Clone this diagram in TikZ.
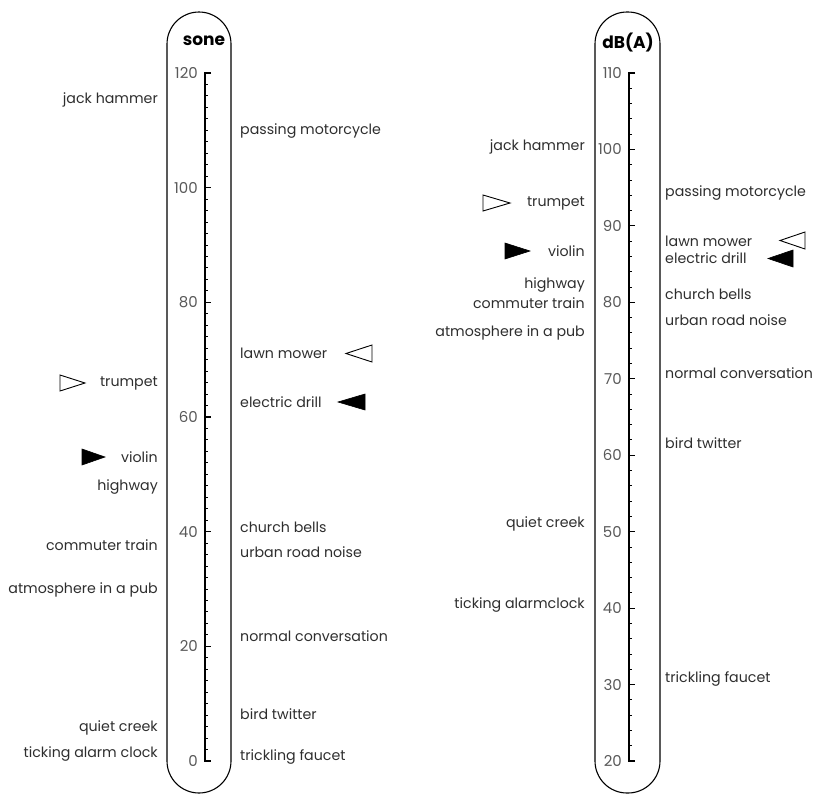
\documentclass[tikz,border=0pt]{standalone}
\usepackage{fontspec}
\setmainfont{Poppins}
\begin{document}
\begin{tikzpicture}[x=1pt,y=-1pt,
  lbl/.style={font=\fontsize{14.2}{15}\selectfont, text=black!82, inner sep=0pt},
  lblL/.style={lbl, anchor=east},
  lblR/.style={lbl, anchor=west},
  num/.style={font=\fontsize{15}{16}\selectfont, text=black!65, inner sep=0pt, anchor=east},
  head/.style={font=\bfseries\fontsize{17}{18}\selectfont, inner sep=0pt},
  capsule/.style={draw, line width=1.1pt, rounded corners=32pt},
  axis/.style={line width=1.5pt},
  opentri/.style={draw, line width=0.9pt, fill=white, line join=miter},
  filltri/.style={draw, fill=black, line width=0.6pt}]
\useasboundingbox (0,0) rectangle (820,798);
% capsules
\draw[capsule] (167,12) rectangle (231,793);
\draw[capsule] (595,12) rectangle (660,793);
\node[head] (sone) at (204,41) {sone};
\node[head] (dba) at (628,43) {dB(A)};
% left axis
\coordinate (la0) at (205,761);
\coordinate (la1) at (205,73);
\draw[axis] ([xshift=6pt]la1) -- (la1) -- (la0) -- ([xshift=6pt]la0);
\foreach \v in {2,4,...,118}{
  \pgfmathsetmacro{\yy}{761-\v*5.73333}
  \draw[line width=0.9pt] (205,\yy) -- (208,\yy);
}
\foreach \v in {20,40,...,100}{
  \pgfmathsetmacro{\yy}{761-\v*5.73333}
  \draw[line width=1.2pt] (205,\yy) -- (211,\yy);
}
\foreach \v in {0,20,...,120}{
  \pgfmathsetmacro{\yy}{761-\v*5.73333}
  \node[num] (ln\v) at (198,\yy) {\v};
}
% right axis
\coordinate (ra0) at (629,761);
\coordinate (ra1) at (629,73);
\draw[axis] ([xshift=6pt]ra1) -- (ra1) -- (ra0) -- ([xshift=6pt]ra0);
\foreach \v in {22,24,...,108}{
  \pgfmathsetmacro{\yy}{761-(\v-20)*7.64444}
  \draw[line width=0.9pt] (629,\yy) -- (632,\yy);
}
\foreach \v in {30,40,...,100}{
  \pgfmathsetmacro{\yy}{761-(\v-20)*7.64444}
  \draw[line width=1.2pt] (629,\yy) -- (635,\yy);
}
\foreach \v in {20,30,...,110}{
  \pgfmathsetmacro{\yy}{761-(\v-20)*7.64444}
  \node[num] (rn\v) at (622,\yy) {\v};
}
% left scale, left labels
\node[lblL] (s1) at (158,100) {jack hammer};
\node[lblL] (s2) at (158,383) {trumpet};
\node[lblL] (s3) at (158,457) {violin};
\node[lblL] (s4) at (158,487) {highway};
\node[lblL] (s5) at (158,545) {commuter train};
\node[lblL] (s6) at (158,590) {atmosphere in a pub};
\node[lblL] (s7) at (158,728) {quiet creek};
\node[lblL] (s8) at (158,754) {ticking alarm clock};
% left scale, right labels
\node[lblR] (s9) at (240,131) {passing motorcycle};
\node[lblR] (s10) at (240,353) {lawn mower};
\node[lblR] (s11) at (240,402) {electric drill};
\node[lblR] (s12) at (240,527) {church bells};
\node[lblR] (s13) at (240,552) {urban road noise};
\node[lblR] (s14) at (240,636) {normal conversation};
\node[lblR] (s15) at (240,714) {bird twitter};
\node[lblR] (s16) at (240,757) {trickling faucet};
% right scale, left labels
\node[lblL] (d1) at (585,147) {jack hammer};
\node[lblL] (d2) at (585,203) {trumpet};
\node[lblL] (d3) at (585,251) {violin};
\node[lblL] (d4) at (585,285) {highway};
\node[lblL] (d5) at (585,303) {commuter train};
\node[lblL] (d6) at (585,333) {atmosphere in a pub};
\node[lblL] (d7) at (585,524) {quiet creek};
\node[lblL] (d8) at (585,605) {ticking alarmclock};
% right scale, right labels
\node[lblR] (d9) at (665,193) {passing motorcycle};
\node[lblR] (d10) at (665,241) {lawn mower};
\node[lblR] (d11) at (665,258) {electric drill};
\node[lblR] (d12) at (665,294) {church bells};
\node[lblR] (d13) at (665,320) {urban road noise};
\node[lblR] (d14) at (665,373) {normal conversation};
\node[lblR] (d15) at (665,443) {bird twitter};
\node[lblR] (d16) at (665,679) {trickling faucet};
% triangles
\draw[opentri] (60,375) -- (60,391) -- (85,383) -- cycle;
\draw[filltri] (82,449) -- (82,465) -- (105,457) -- cycle;
\draw[opentri] (372,345) -- (372,362) -- (346,353.5) -- cycle;
\draw[filltri] (365,394) -- (365,410) -- (338,402) -- cycle;
\draw[opentri] (483,195) -- (483,211) -- (510,203) -- cycle;
\draw[filltri] (505,243) -- (505,259) -- (530,251) -- cycle;
\draw[opentri] (805,232) -- (805,249) -- (780,240.5) -- cycle;
\draw[filltri] (793,250) -- (793,267) -- (768,258.5) -- cycle;
\end{tikzpicture}
\end{document}
